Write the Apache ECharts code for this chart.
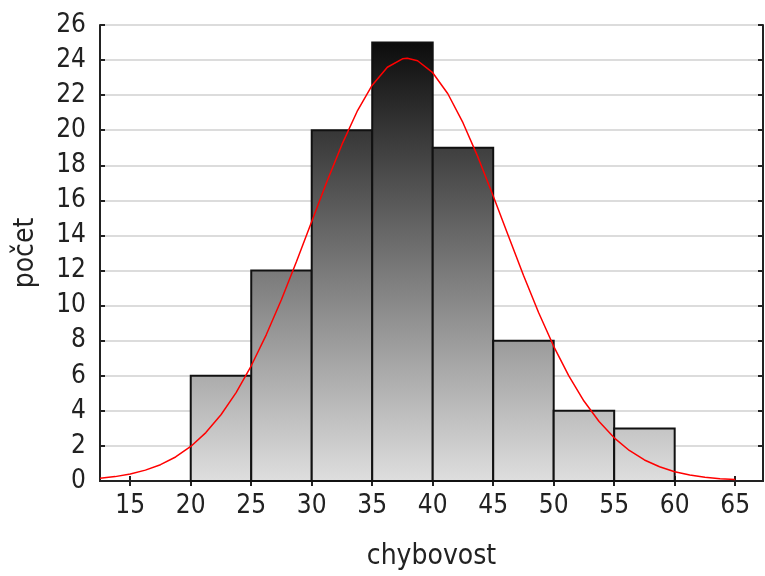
<!DOCTYPE html>
<html><head><meta charset="utf-8">
<script src="https://cdn.jsdelivr.net/npm/echarts@6/dist/echarts.min.js"></script>
<style>html,body{margin:0;padding:0;background:#fff;overflow:hidden}#c{width:765px;height:576px}</style>
</head><body><div id="c"></div>
<script>
// Histogram bins (lower edge, upper edge) and counts
var binStart = [20, 25, 30, 35, 40, 45, 50, 55];
var binEnd   = [25, 30, 35, 40, 45, 50, 55, 60];
var counts   = [6, 12, 20, 25, 19, 8, 4, 3];
// Red fitted curve
var curveX = [12.5, 13.75, 15, 16.25, 17.5, 18.75, 20, 21.25, 22.5, 23.75, 25, 26.25, 27.5, 28.75, 30, 31.25, 32.5, 33.75, 35, 36.25, 37.5, 37.9, 38.75, 40, 41.25, 42.5, 43.75, 45, 46.25, 47.5, 48.75, 50, 51.25, 52.5, 53.75, 55, 56.25, 57.5, 58.75, 60, 61.25, 62.5, 63.75, 65];
var curveY = [0.16, 0.25, 0.40, 0.62, 0.93, 1.37, 1.97, 2.76, 3.78, 5.04, 6.57, 8.35, 10.35, 12.53, 14.80, 17.06, 19.19, 21.07, 22.57, 23.59, 24.07, 24.10, 23.96, 23.28, 22.08, 20.43, 18.45, 16.25, 13.98, 11.73, 9.61, 7.68, 5.99, 4.56, 3.39, 2.46, 1.74, 1.20, 0.81, 0.53, 0.34, 0.21, 0.13, 0.08];
// Tick labels
var xTicks = [15, 20, 25, 30, 35, 40, 45, 50, 55, 60, 65];
var yTicks = [0, 2, 4, 6, 8, 10, 12, 14, 16, 18, 20, 22, 24, 26];

var barData = binStart.map(function (s, i) { return [s, binEnd[i], counts[i]]; });
var lineData = curveX.map(function (x, i) { return [x, curveY[i]]; });

var FONT = '"DejaVu Sans Condensed", "DejaVu Sans", sans-serif';
var FS = 26;
var chart = echarts.init(document.getElementById('c'), null, {renderer: 'canvas', width: 765, height: 576});
var grad = {type: 'linear', x: 0, y: 42, x2: 0, y2: 485, global: true,
  colorStops: [{offset: 0, color: '#0c0c0c'}, {offset: 1, color: '#e0e0e0'}]};

var axisCommonX = {
  type: 'value', min: 12.5, max: 67.3,
  axisLine: {show: true, lineStyle: {color: '#222', width: 2}},
  axisTick: {show: true, inside: true, length: 5, customValues: xTicks, lineStyle: {color: '#222', width: 2}},
  splitLine: {show: false}
};
var axisCommonY = {
  type: 'value', min: 0, max: 26, interval: 2,
  axisLine: {show: true, lineStyle: {color: '#222', width: 2}},
  axisTick: {show: true, inside: true, length: 5, lineStyle: {color: '#222', width: 2}}
};

chart.setOption({
  animation: false,
  backgroundColor: '#fff',
  grid: {left: 100, right: 2, top: 25, bottom: 91, containLabel: false},
  xAxis: [
    Object.assign({}, axisCommonX, {
      position: 'bottom',
      name: 'chybovost', nameLocation: 'middle', nameGap: 62,
      nameTextStyle: {fontFamily: FONT, fontSize: 28, color: '#222'},
      axisLabel: {customValues: xTicks, margin: 12, fontFamily: FONT, fontSize: FS, color: '#222',
        formatter: function (v) { return String(v); }}
    }),
    Object.assign({}, axisCommonX, {position: 'top', axisLabel: {show: false}})
  ],
  yAxis: [
    Object.assign({}, axisCommonY, {
      position: 'left',
      name: 'počet', nameLocation: 'middle', nameGap: 60, nameRotate: 90,
      nameTextStyle: {fontFamily: FONT, fontSize: 28, color: '#222'},
      axisLabel: {margin: 14, fontFamily: FONT, fontSize: FS, color: '#222',
        customValues: yTicks},
      splitLine: {show: true, lineStyle: {color: '#dcdcdc', width: 2}}
    }),
    Object.assign({}, axisCommonY, {position: 'right', axisLabel: {show: false}, splitLine: {show: false}})
  ],
  series: [
    {
      type: 'custom', xAxisIndex: 0, yAxisIndex: 0,
      data: barData,
      encode: {x: [0, 1], y: 2},
      renderItem: function (params, api) {
        var p0 = api.coord([api.value(0), api.value(2)]);
        var p1 = api.coord([api.value(1), 0]);
        return {
          type: 'rect',
          shape: {x: p0[0], y: p0[1], width: p1[0] - p0[0], height: p1[1] - p0[1]},
          style: {fill: grad, stroke: '#111', lineWidth: 2}
        };
      },
      z: 2
    },
    {
      type: 'line', xAxisIndex: 0, yAxisIndex: 0,
      data: lineData, smooth: false, showSymbol: false,
      lineStyle: {color: '#ff0000', width: 1.5},
      z: 3
    }
  ]
});
</script></body></html>
